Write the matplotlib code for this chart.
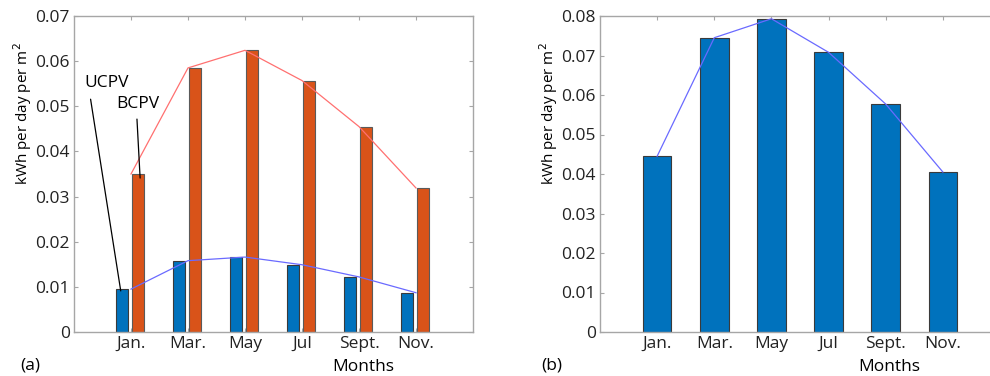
import numpy as np
import matplotlib.pyplot as plt

plt.rcParams['font.family'] = ['Open Sans', 'DejaVu Sans']

months = ['Jan.', 'Mar.', 'May', 'Jul', 'Sept.', 'Nov.']
ucpv = [0.0095, 0.0158, 0.0166, 0.0149, 0.0122, 0.0087]
bcpv = [0.0350, 0.0585, 0.0624, 0.0557, 0.0455, 0.0319]
total = [0.0445, 0.0745, 0.0793, 0.0708, 0.0577, 0.0405]

blue = '#0072BD'
orange = '#D95319'
axis_grey = '#a6a6a6'
fs = 12.5

x = np.arange(1, len(months) + 1)

fig = plt.figure(figsize=(9.9, 3.76), dpi=100)
W, H = 990, 376

def make_axes(left, right):
	return fig.add_axes([left / W, 1 - 332 / H, (right - left) / W, (332 - 16) / H])

def style(ax, ymax):
	ax.set_xlim(0, 7)
	ax.set_ylim(0, ymax)
	ax.set_xticks(x)
	ax.set_xticklabels(months, fontsize=fs)
	ax.set_yticks(np.arange(0, ymax + 1e-9, 0.01))
	ax.set_yticklabels(['0'] + ['%.2f' % v for v in np.arange(0.01, ymax + 1e-9, 0.01)], fontsize=fs)
	ax.tick_params(direction='in', length=3, width=0.8, color=axis_grey,
				   top=True, right=True, pad=3, labelcolor='#222222')
	for s in ax.spines.values():
		s.set_color(axis_grey)
		s.set_linewidth(1.0)
	ax.set_ylabel('kWh per day per m$^2$', fontsize=11)
	ax.yaxis.set_label_coords(-0.10, 0.69)
	ax.text(5.07, -0.11, 'Months', transform=ax.get_xaxis_transform(),
			ha='center', va='center', fontsize=fs)

# (a) grouped bars
ax1 = make_axes(74, 473)
ax1.bar(x - 0.15, ucpv, width=0.21, color=blue, edgecolor='#3a3a3a', linewidth=0.8, zorder=2)
ax1.bar(x + 0.13, bcpv, width=0.21, color=orange, edgecolor='#5a5a5a', linewidth=0.8, zorder=2)
ax1.plot(x, bcpv, color='#ff7070', linewidth=0.9, zorder=3)
ax1.plot(x, ucpv, color='#6a6aff', linewidth=0.9, zorder=3)
style(ax1, 0.07)

# text labels with leader lines
ax1.annotate('UCPV', xy=(0.82, 0.0091), xytext=(0.19, 0.0534), fontsize=fs,
			 ha='left', va='bottom',
			 arrowprops=dict(arrowstyle='-', color='black', lw=0.9, relpos=(0.1, 0),
							 shrinkA=4, shrinkB=0))
ax1.annotate('BCPV', xy=(1.16, 0.0341), xytext=(0.75, 0.0487), fontsize=fs,
			 ha='left', va='bottom',
			 arrowprops=dict(arrowstyle='-', color='black', lw=0.9, relpos=(0.46, 0),
							 shrinkA=3, shrinkB=0))
fig.text(30 / W, 1 - 366 / H, '(a)', ha='center', va='center', fontsize=fs)

# (b) total
ax2 = make_axes(600, 1000)
ax2.bar(x, total, width=0.5, color=blue, edgecolor='#3a3a3a', linewidth=0.8, zorder=2)
ax2.plot(x, total, color='#6a6aff', linewidth=0.9, zorder=3)
style(ax2, 0.08)
fig.text(552 / W, 1 - 366 / H, '(b)', ha='center', va='center', fontsize=fs)

fig.savefig('out.png', dpi=100)
